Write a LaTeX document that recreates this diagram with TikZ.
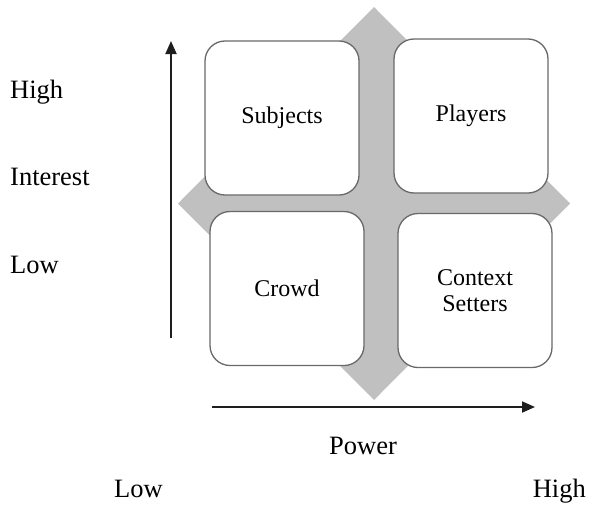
\documentclass[tikz,border=0pt]{standalone}
\usepackage{fontspec}
\setmainfont{Liberation Serif}
\usetikzlibrary{arrows.meta}
\definecolor{crossgrey}{RGB}{192,192,192}
\definecolor{boxline}{RGB}{105,105,105}
\definecolor{axisline}{RGB}{30,30,30}
\tikzset{
  quad/.style={draw=boxline, line width=1.3pt, fill=white, rounded corners=20pt,
    minimum width=154pt, minimum height=154pt, inner sep=0pt, align=center,
    font=\fontsize{24}{26}\selectfont},
  axislabel/.style={inner sep=0pt, font=\fontsize{26.5}{30}\selectfont},
  axisarrow/.style={draw=axisline, line width=1.8pt, -{Triangle[length=13pt,width=11pt]}}
}
\begin{document}
\begin{tikzpicture}[x=1pt,y=-1pt]
\useasboundingbox (0,0) rectangle (593,506);
% grey diamond behind the quadrants
\fill[crossgrey] (374,7) -- (570,203.5) -- (374,400) -- (178,203.5) -- cycle;
% quadrants
\node[quad] (subjects) at (282,118) {Subjects};
\node[quad] (players) at (471,116) {Players};
\node[quad] (crowd) at (287,288.5) {Crowd};
\node[quad] (context) at (475,290.5) {Context\\Setters};
% axes
\coordinate (ystart) at (171,338);
\coordinate (yend) at (171,41);
\coordinate (xstart) at (212,407);
\coordinate (xend) at (535,407);
\draw[axisarrow] (ystart) -- (yend);
\draw[axisarrow] (xstart) -- (xend);
% labels
\node[axislabel, anchor=base west] (yhigh) at (10,98) {High};
\node[axislabel, anchor=base west] (yint) at (10,185) {Interest};
\node[axislabel, anchor=base west] (ylow) at (10,273) {Low};
\node[axislabel, anchor=base] (power) at (363,454) {Power};
\node[axislabel, anchor=base west] (xlow) at (114,497) {Low};
\node[axislabel, anchor=base east] (xhigh) at (586,497) {High};
\end{tikzpicture}
\end{document}
